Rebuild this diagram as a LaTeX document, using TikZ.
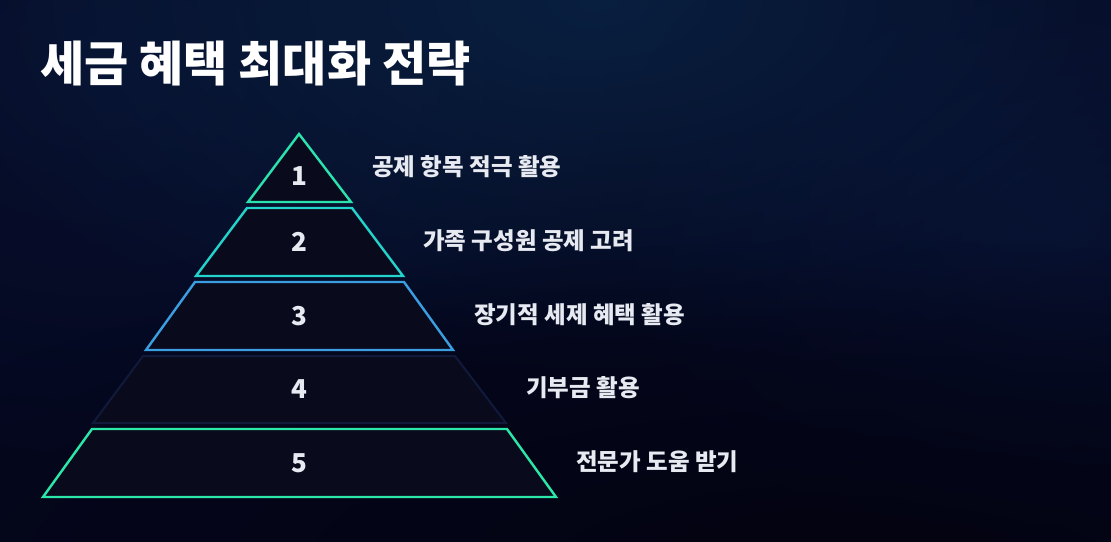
\documentclass[tikz,border=0pt]{standalone}
\usepackage{fontspec}
\usetikzlibrary{fadings}
\newfontfamily\kr{Noto Sans CJK KR}
\tikzfading[name=glowfade, inner color=transparent!0, outer color=transparent!100]
\definecolor{bg}{HTML}{05071E}
\definecolor{glow}{HTML}{0A2446}
\definecolor{glowb}{HTML}{0A1A40}
\definecolor{dark}{HTML}{030310}
\definecolor{layerfill}{HTML}{0A0A1D}
\definecolor{cmint}{HTML}{2BE3AE}
\definecolor{cteal}{HTML}{22D4CC}
\definecolor{cblue}{HTML}{3A9EE0}
\definecolor{cdark}{HTML}{111A3A}
\definecolor{cgreen}{HTML}{2CE8A8}
\definecolor{txt}{HTML}{E8EAF2}
\tikzset{
  layer/.style={fill=layerfill, line width=2.4pt, line join=miter},
  num/.style={font=\kr\bfseries\fontsize{26}{28}\selectfont, text=txt, inner sep=0pt},
  lbl/.style={font=\kr\bfseries\fontsize{23.5}{26}\selectfont, text=txt, anchor=west, inner sep=0pt},
  ttl/.style={font=\kr\bfseries\fontsize{48}{52}\selectfont, text=white, anchor=west, inner sep=0pt}
}
\begin{document}
\begin{tikzpicture}[x=1pt,y=-1pt]
\useasboundingbox (0,0) rectangle (1111,541);
\begin{scope}
\clip (-5,-5) rectangle (1116,546);
\fill[bg] (-5,-5) rectangle (1116,546);
\fill[glowb, opacity=0.5, path fading=glowfade, fit fading=true] (100,60) ellipse (560 and 440);
\fill[glow, opacity=0.85, path fading=glowfade, fit fading=true] (600,0) ellipse (700 and 380);
\fill[glowb, opacity=0.55, path fading=glowfade, fit fading=true] (1060,220) ellipse (460 and 360);
\fill[dark, path fading=glowfade, fit fading=true] (850,580) ellipse (1100 and 340);
\end{scope}
% title
\node[ttl] (title) at (40,64) {세금 혜택 최대화 전략};
% pyramid layers
\draw[layer, draw=cmint] (299,134) -- (351,202) -- (248,202) -- cycle;
\draw[layer, draw=cteal] (247,208) -- (352,208) -- (403,276) -- (196,276) -- cycle;
\draw[layer, draw=cblue] (195,282) -- (404,282) -- (453,350) -- (146,350) -- cycle;
\draw[layer, draw=cdark, line width=2pt] (143,356) -- (455,356) -- (506,423) -- (93,423) -- cycle;
\draw[layer, draw=cgreen] (92,429) -- (507,429) -- (556,497) -- (43,497) -- cycle;
% numbers
\node[num] (n1) at (299,176) {1};
\node[num] (n2) at (299,242) {2};
\node[num] (n3) at (299,316) {3};
\node[num] (n4) at (299,389) {4};
\node[num] (n5) at (299,463) {5};
% labels
\node[lbl] (l1) at (372,167) {공제 항목 적극 활용};
\node[lbl] (l2) at (423,241) {가족 구성원 공제 고려};
\node[lbl] (l3) at (474,315) {장기적 세제 혜택 활용};
\node[lbl] (l4) at (526,388) {기부금 활용};
\node[lbl] (l5) at (576,462) {전문가 도움 받기};
\end{tikzpicture}
\end{document}
